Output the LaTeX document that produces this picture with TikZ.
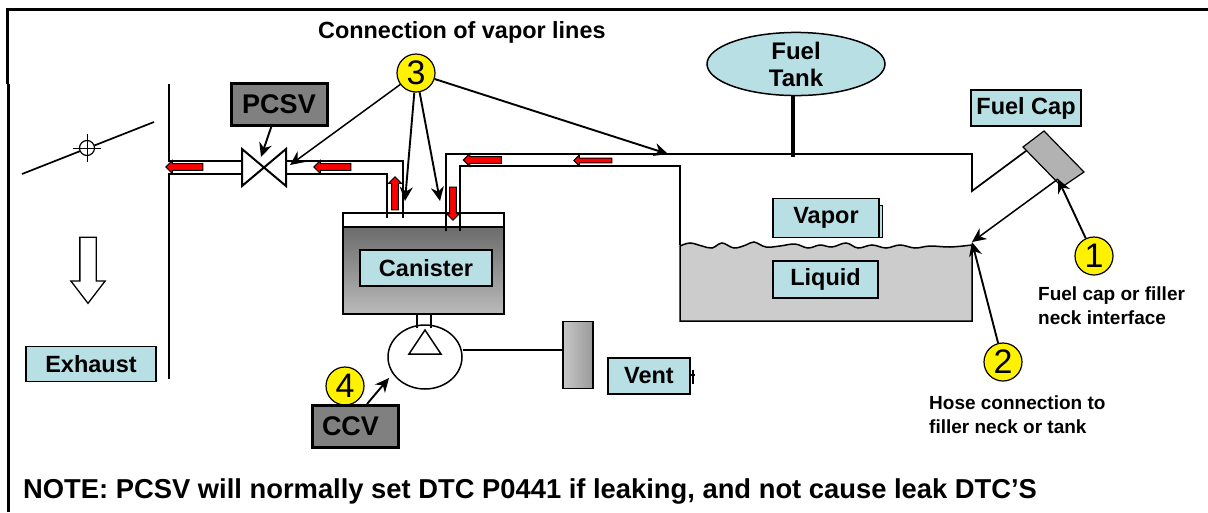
\documentclass[tikz,border=0pt]{standalone}
\usepackage{fontspec}
\setmainfont{Liberation Sans}
\usetikzlibrary{shapes.geometric,shapes.arrows,arrows.meta}
\definecolor{labelblue}{RGB}{184,224,228}
\begin{document}
\begin{tikzpicture}[
        x=1pt, y=-1pt,
        tag/.style={rectangle, draw=black, line width=1.2pt, fill=labelblue, inner sep=0pt, font=\fontsize{23.5}{25}\selectfont\bfseries},
        valvebox/.style={rectangle, draw=black, line width=3pt, fill=black!50, inner sep=0pt, font=\fontsize{27}{29}\selectfont\bfseries},
        marker/.style={circle, draw=black, line width=1.2pt, fill=yellow, inner sep=0pt, minimum size=38pt, font=\fontsize{34}{36}\selectfont},
        caption/.style={font=\fontsize{19}{24.5}\selectfont\bfseries, align=left, inner sep=0pt},
        pipe/.style={line width=1.7pt},
        arrow/.style={-{Stealth[length=14pt,width=13pt]}, line width=1.9pt},
        flow/.style={single arrow, draw=black, fill=red, line width=1pt, inner sep=2.6pt, minimum width=13pt, single arrow head extend=3pt, single arrow head indent=0pt, single arrow tip angle=90}
    ]
    \useasboundingbox (0,0) rectangle (1208,512);
    \fill[white] (0,0) rectangle (1208,512);

    % Frame
    \draw[line width=3pt] (7,84) -- (7,9) -- (1208,9);
    \draw[line width=3pt] (8,84) -- (8,512);

    % Throttle and exhaust
    \draw[line width=1.7pt] (22,174) -- (154,122);
    \node (pivot) at (87,148) [circle, draw=black, fill=white, line width=1.2pt, minimum size=15pt, inner sep=0pt] {};
    \draw[line width=1pt] (73,148) -- (101,148) (87,134) -- (87,162);
    \node (down) at (88,265) [single arrow, draw=black, line width=1.3pt, fill=white, shape border rotate=270, minimum height=66pt, minimum width=34pt, single arrow head extend=9pt, single arrow tip angle=75, inner sep=7.5pt] {};
    \node (exhaust) at (91,364) [tag, minimum width=130pt, minimum height=35pt] {Exhaust};
    \draw[pipe] (169,84) -- (169,161) -- (242,161);
    \draw[pipe] (169,379) -- (169,174) -- (242,174);

    % Purge line
    \draw[pipe] (286,161) -- (403,161) -- (403,218);
    \draw[pipe] (286,174) -- (387,174) -- (387,218);
    \node (pcsv) at (279,104) [valvebox, minimum width=96pt, minimum height=42pt] {PCSV};
    \draw[line width=2pt, fill=white] (242,149) -- (286,186) -- (286,149) -- (242,186) -- cycle;

    % Canister
    \draw[line width=1.5pt] (343,226) -- (343,213) -- (504,213) -- (504,226);
    \shade[top color=black!58, bottom color=black!27] (343,227) rectangle (504,314);
    \draw[line width=2pt] (343,227) rectangle (504,314);
    \node (canister) at (426,268) [tag, minimum width=132pt, minimum height=36pt] {Canister};

    % Vapor line to tank
    \draw[pipe] (446,231) -- (446,154) -- (972,154) -- (972,191) -- (1030,148);
    \draw[pipe] (460,231) -- (460,166) -- (680,166) -- (680,245);

    % Tank
    \draw[line width=1.5pt, fill=black!20] (680,321) -- (680,246) -- plot[smooth, tension=0.6] coordinates {
        (680,246) (690,243) (702,246) (712,248) (722,243) (734,248) (746,245) (754,242)
        (766,247) (780,246) (795,244) (808,248) (820,245) (832,247) (846,243) (858,248)
        (872,245) (886,248) (900,245) (915,248) (930,246) (950,247) (972,245)}
        -- (972,321) -- cycle;
    \node (fueltank) at (796,64) [ellipse, draw=black, line width=1.5pt, fill=labelblue, minimum width=178pt, minimum height=62pt, inner sep=0pt, align=center, font=\fontsize{24}{27}\selectfont\bfseries] {Fuel\\Tank};
    \coordinate (tee) at (793,157);
    \draw[line width=4pt] (fueltank.south -| tee) -- (tee);
    \node (vaporback) at (830,221) [draw=black, line width=1pt, fill=labelblue, minimum width=104pt, minimum height=32pt, inner sep=0pt] {};
    \node (vapor) at (826,218) [tag, minimum width=106pt, minimum height=39pt] {Vapor};
    \node (liquid) at (825.5,279.5) [tag, minimum width=105pt, minimum height=37pt] {Liquid};

    % Filler neck and cap
    \node (fuelcap) at (1026,108) [tag, minimum width=110pt, minimum height=36pt] {Fuel Cap};
    \draw[line width=1.2pt, fill=black!30] (1023,147) -- (1044,131) -- (1084,172) -- (1062,187) -- cycle;
    \coordinate (capedge) at (1058,179);
    \coordinate (tankedge) at (972,242);
    \draw[arrow, line width=1.5pt] (capedge) -- (tankedge);

    % Pump and vent
    \draw[line width=1.5pt] (417,314) -- (417,328) (431,314) -- (431,328);
    \node (pump) at (425,357) [ellipse, draw=black, line width=1.5pt, minimum width=74pt, minimum height=64pt, inner sep=0pt] {};
    \draw[line width=1.5pt] (425,330) -- (441,354) -- (409,354) -- cycle;
    \shade[left color=black!22, right color=black!40] (563,321) rectangle (593,388);
    \node (ventbox) at (578,355) [draw=black, line width=1.2pt, minimum width=30pt, minimum height=67pt, inner sep=0pt] {};
    \draw[pipe] (pump.east |- 0,350) -- (ventbox.west |- 0,350);
    \draw[line width=1.2pt] (693,370) -- (693,384) (690,375) -- (695,375);
    \node (vent) at (649,376) [tag, minimum width=82pt, minimum height=36pt] {Vent};

    % Numbered markers
    \node (one) at (1094,256) [marker] {1};
    \node (two) at (1003,362) [marker] {2};
    \node (three) at (416,73) [marker] {3};
    \node (four) at (345,386) [marker] {4};
    \node (ccv) at (355,426) [valvebox, minimum width=86pt, minimum height=42pt, text width=66pt] {CCV};
    \coordinate (valveport) at (290,165);
    \coordinate (portout) at (405,201);
    \coordinate (portin) at (440,201);
    \coordinate (tankline) at (668,154);
    \coordinate (valvetop) at (261,157);
    \coordinate (pumpedge) at (389,378);
    \coordinate (ccvtop) at (367,404);
    \draw[arrow] (one) -- (capedge);
    \draw[arrow] (two) -- (tankedge);
    \draw[arrow, line width=1.5pt] (three) -- (valveport);
    \draw[arrow] (three) -- (portout);
    \draw[arrow] (three) -- (portin);
    \draw[arrow] (three) -- (tankline);
    \draw[arrow] (pcsv) -- (valvetop);
    \draw[arrow] (ccvtop) -- (pumpedge);

    % Flow arrows
    \node (flow1) at (186,167) [flow, shape border rotate=180, minimum height=37pt] {};
    \node (flow2) at (334,167) [flow, shape border rotate=180, minimum height=37pt] {};
    \node (flow3) at (395,195) [flow, shape border rotate=90, minimum height=33pt] {};
    \node (flow4) at (453,202) [flow, shape border rotate=270, minimum height=33pt] {};
    \node (flow5) at (484,160) [flow, shape border rotate=180, minimum height=38pt] {};
    \node (flow6) at (594,160.5) [flow, shape border rotate=180, minimum height=38pt, minimum width=11pt, inner sep=1.8pt] {};

    % Captions
    \node (title) at (318,32) [caption, anchor=west, font=\fontsize{23.4}{26}\selectfont\bfseries] {Connection of vapor lines};
    \node (capnote) at (1038,305.5) [caption, anchor=west] {Fuel cap or filler\\neck interface};
    \node (hosenote) at (929,414.5) [caption, anchor=west] {Hose connection to\\filler neck or tank};
    \node (note) at (23,491) [caption, anchor=west, font=\fontsize{27.35}{30}\selectfont\bfseries] {NOTE: PCSV will normally set DTC P0441 if leaking, and not cause leak DTC'S};
\end{tikzpicture}
\end{document}
